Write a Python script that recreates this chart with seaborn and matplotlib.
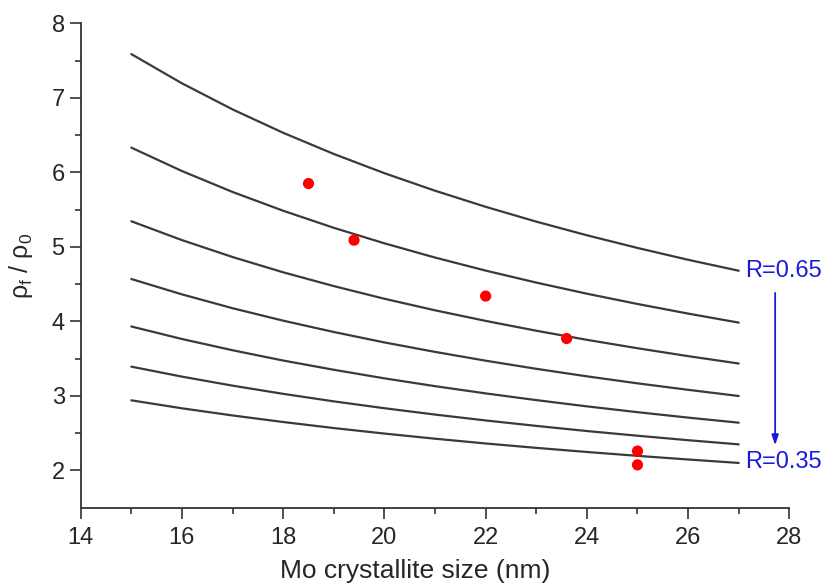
import pandas as pd
import seaborn as sns
import matplotlib.pyplot as plt

# crystallite size grid for model curves (nm)
size = [15, 16, 17, 18, 19, 20, 21, 22, 23, 24, 25, 26, 27]
r_values = [0.65, 0.60, 0.55, 0.50, 0.45, 0.40, 0.35]

curve_065 = [7.587, 7.195, 6.845, 6.531, 6.247, 5.989, 5.754, 5.538, 5.339, 5.156, 4.986, 4.827, 4.680]
curve_060 = [6.332, 6.018, 5.737, 5.485, 5.256, 5.048, 4.857, 4.682, 4.521, 4.372, 4.234, 4.105, 3.984]
curve_055 = [5.344, 5.091, 4.864, 4.659, 4.474, 4.304, 4.149, 4.007, 3.875, 3.753, 3.640, 3.534, 3.435]
curve_050 = [4.569, 4.363, 4.177, 4.010, 3.858, 3.718, 3.591, 3.473, 3.364, 3.263, 3.169, 3.082, 2.999]
curve_045 = [3.932, 3.764, 3.613, 3.475, 3.351, 3.236, 3.131, 3.034, 2.944, 2.860, 2.782, 2.709, 2.641]
curve_040 = [3.393, 3.259, 3.138, 3.028, 2.927, 2.835, 2.750, 2.671, 2.598, 2.529, 2.466, 2.406, 2.350]
curve_035 = [2.941, 2.834, 2.738, 2.650, 2.569, 2.495, 2.426, 2.362, 2.303, 2.248, 2.196, 2.147, 2.101]
curves = [curve_065, curve_060, curve_055, curve_050, curve_045, curve_040, curve_035]

# measured points
meas_size = [18.5, 19.4, 22.0, 23.6, 25.0, 25.0]
meas_ratio = [5.85, 5.09, 4.34, 3.77, 2.26, 2.075]

rows = []
for r, ys in zip(r_values, curves):
    for x, y in zip(size, ys):
        rows.append({"size": x, "ratio": y, "R": r})
df = pd.DataFrame(rows)
pts = pd.DataFrame({"size": meas_size, "ratio": meas_ratio})

sns.set_style("ticks")
plt.rcParams['font.family'] = ['Liberation Sans', 'DejaVu Sans']
plt.rcParams['mathtext.default'] = 'regular'

fig = plt.figure(figsize=(8.26, 5.86), dpi=100)
ax = fig.add_axes([0.0977, 0.1336, 0.8579, 0.8266])

sns.lineplot(data=df, x="size", y="ratio", hue="R", units="R", estimator=None,
             palette=["#3a3a3a"] * len(r_values), linewidth=1.6, legend=False, ax=ax)
sns.scatterplot(data=pts, x="size", y="ratio", color="red", s=65, edgecolor="none",
                zorder=5, ax=ax)

ax.set_xlim(14, 28)
ax.set_ylim(1.5, 8)
ax.set_xticks(range(14, 29, 2))
ax.set_xticks(range(15, 28, 2), minor=True)
ax.set_yticks(range(2, 9))
ax.set_yticks([2.5, 3.5, 4.5, 5.5, 6.5, 7.5], minor=True)
ax.tick_params(which='major', length=8, width=1.2, labelsize=17, color="#333333")
ax.tick_params(which='minor', length=4.5, width=1.2, color="#333333")
ax.tick_params(axis='x', pad=6)
for s in ["left", "bottom"]:
    ax.spines[s].set_linewidth(1.3)
    ax.spines[s].set_color("#333333")
sns.despine(ax=ax)

ax.set_xlabel("Mo crystallite size (nm)", fontsize=19)
ax.xaxis.set_label_coords(0.472, -0.105)
ax.set_ylabel(r"ρ$_{f}$ / ρ$_{0}$", fontsize=18, labelpad=12)

# R range annotation
ax.text(27.13, 4.68, "R=0.65", color="#1a1adc", fontsize=17, va="center", ha="left",
        clip_on=False)
ax.text(27.13, 2.12, "R=0.35", color="#1a1adc", fontsize=17, va="center", ha="left",
        clip_on=False)
ax.annotate("", xy=(27.72, 2.30), xytext=(27.72, 4.42),
            arrowprops=dict(arrowstyle="-|>,head_length=0.6,head_width=0.2",
                            color="#1a1adc", lw=1.3))

fig.savefig("out.png", dpi=100)
